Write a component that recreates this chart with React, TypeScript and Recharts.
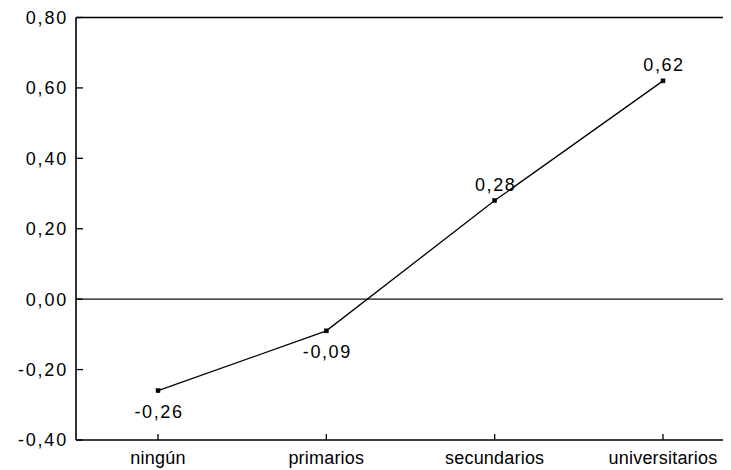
import React from "react";
import { LineChart, Line, XAxis, YAxis, ReferenceLine, LabelList } from "recharts";

const categories = ["ningún", "primarios", "secundarios", "universitarios"];
const values = [-0.26, -0.09, 0.28, 0.62];
const yTicks = [-0.4, -0.2, 0, 0.2, 0.4, 0.6, 0.8];

const data = categories.map((c, i) => ({ cat: c, v: values[i] }));

const FONT = "'Liberation Sans', Arial, Helvetica, sans-serif";
const fmt = (v: number) => v.toFixed(2).replace(".", ",");

const Dot = (props: any) => {
  const { cx, cy } = props;
  if (cx == null || cy == null) return null;
  return <rect x={cx - 2} y={cy - 2} width={4} height={4} fill="#000" stroke="#000" strokeWidth={0.5} />;
};

const ValueLabel = (props: any) => {
  const { x, y, value } = props;
  const below = value < 0;
  return (
    <text
      x={x + 1}
      y={below ? y + 27 : y - 9.5}
      textAnchor="middle"
      fontFamily={FONT}
      fontSize={18}
      letterSpacing={1.6}
      fill="#000"
    >
      {fmt(value)}
    </text>
  );
};

export default function App() {
  return (
    <div style={{ width: 723, height: 462, overflow: "hidden" }}>
      <LineChart
        width={739}
        height={462}
        data={data}
        margin={{ top: 9.5, right: 0, bottom: 0, left: 0 }}
      >
        <XAxis
          dataKey="cat"
          height={30}
          padding={{ left: 82, right: 84 }}
          axisLine={{ stroke: "#000", strokeWidth: 1.6 }}
          tickLine={{ stroke: "#000", strokeWidth: 1.3 }}
          tickSize={-6}
          tickMargin={17}
          interval={0}
          tick={{ fontFamily: FONT, fontSize: 18, letterSpacing: 0.2, fill: "#000" }}
        />
        <YAxis
          type="number"
          domain={[-0.4, 0.8]}
          ticks={yTicks}
          interval={0}
          width={68}
          tickFormatter={fmt}
          axisLine={{ stroke: "#000", strokeWidth: 1.6 }}
          tickLine={{ stroke: "#000", strokeWidth: 1.3 }}
          tickSize={-7}
          tickMargin={15}
          tick={{ fontFamily: FONT, fontSize: 18, letterSpacing: 1.8, fill: "#000" }}
        />
        <ReferenceLine y={0.8} stroke="#000" strokeWidth={1.6} />
        <ReferenceLine y={0} stroke="#111" strokeWidth={1.3} />
        <Line
          dataKey="v"
          stroke="#000"
          strokeWidth={1.3}
          dot={<Dot />}
          activeDot={false}
          isAnimationActive={false}
        >
          <LabelList dataKey="v" content={<ValueLabel />} />
        </Line>
      </LineChart>
    </div>
  );
}
